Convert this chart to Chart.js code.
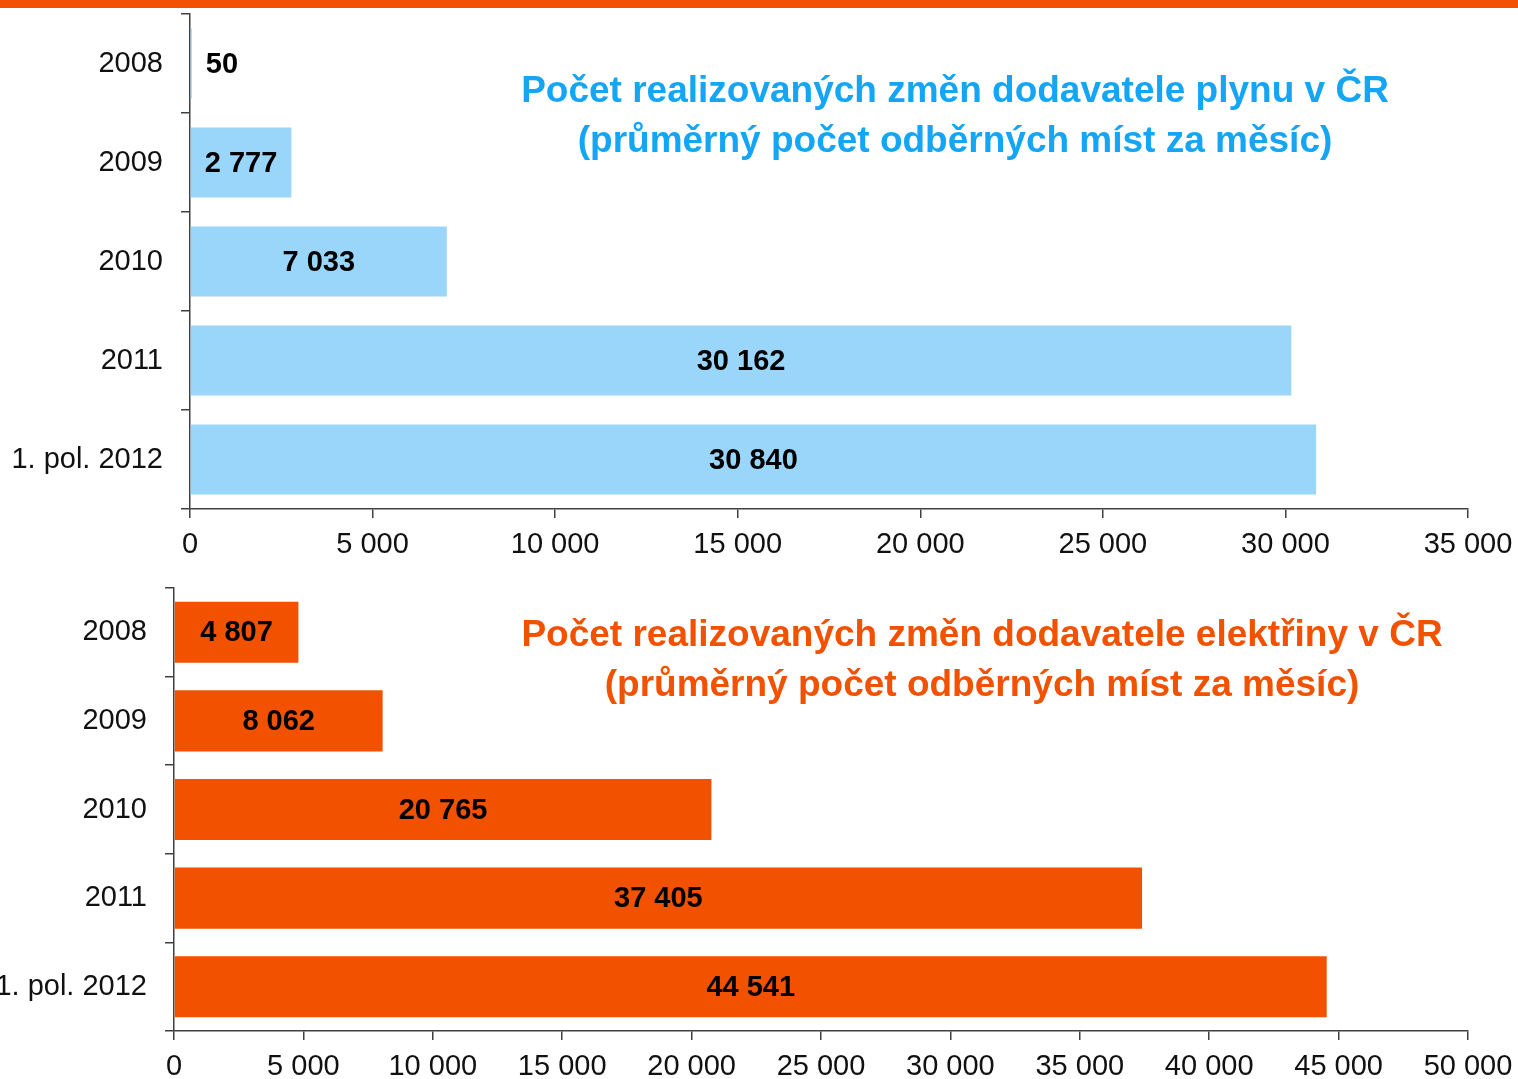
<!DOCTYPE html>
<html>
<head>
<meta charset="utf-8">
<script src="https://cdn.jsdelivr.net/npm/chart.js@4.4.1/dist/chart.umd.min.js"></script>
<style>
  html, body { margin:0; padding:0; background:#fff; }
  body { width:1518px; height:1079px; position:relative; overflow:hidden; font-family:"Liberation Sans", Arial, sans-serif; }
  #topbar { position:absolute; left:0; top:0; width:1518px; height:8px; background:#F25100; }
  canvas { position:absolute; left:0; }
  #c1 { top:0; }
  #c2 { top:575px; }
  .title { position:absolute; font-weight:bold; font-size:37px; line-height:50px; text-align:center; white-space:nowrap; width:1200px; }
  #t1 { color:#14A5F5; left:355px; top:65px; }
  #t2 { color:#F25100; left:382px; top:609px; }
</style>
</head>
<body>
<div id="topbar"></div>
<canvas id="c1" width="1518" height="575"></canvas>
<canvas id="c2" width="1518" height="504"></canvas>
<div class="title" id="t1">Počet realizovaných změn dodavatele plynu v ČR<br>(průměrný počet odběrných míst za měsíc)</div>
<div class="title" id="t2">Počet realizovaných změn dodavatele elektřiny v ČR<br>(průměrný počet odběrných míst za měsíc)</div>
<script>
const categories = ["2008", "2009", "2010", "2011", "1. pol. 2012"];
const gasValues = [50, 2777, 7033, 30162, 30840];
const elecValues = [4807, 8062, 20765, 37405, 44541];
const gasTicksMax = 35000;
const elecTicksMax = 50000;
const tickStep = 5000;

function fmt(v) { return String(v).replace(/\B(?=(\d{3})+(?!\d))/g, ' '); }

const FONT = '"Liberation Sans", Arial, sans-serif';
const AXIS = '#404040';

const valueLabels = {
  id: 'valueLabels',
  afterDatasetsDraw(chart) {
    const ctx = chart.ctx;
    const meta = chart.getDatasetMeta(0);
    ctx.save();
    ctx.font = 'bold 29px ' + FONT;
    ctx.fillStyle = '#000';
    ctx.textBaseline = 'middle';
    meta.data.forEach((bar, i) => {
      const txt = fmt(chart.data.datasets[0].data[i]);
      const w = ctx.measureText(txt).width;
      const len = bar.x - bar.base;
      if (w > len - 10) {
        ctx.textAlign = 'left';
        ctx.fillText(txt, bar.base + 15, bar.y + 1);
      } else {
        ctx.textAlign = 'center';
        ctx.fillText(txt, (bar.x + bar.base) / 2, bar.y + 1);
      }
    });
    ctx.restore();
  }
};

function makeChart(id, values, color, max, yWidth, padTop, xHeight, barPct) {
  return new Chart(document.getElementById(id), {
    type: 'bar',
    data: { labels: categories, datasets: [{ data: values, backgroundColor: color, borderWidth: 0, barPercentage: barPct, categoryPercentage: 1 }] },
    options: {
      indexAxis: 'y',
      responsive: false,
      animation: false,
      devicePixelRatio: 1,
      layout: { padding: { top: padTop, right: 50, left: 0, bottom: 0 } },
      plugins: { legend: { display: false }, tooltip: { enabled: false }, title: { display: false } },
      scales: {
        y: {
          afterFit(s) { s.width = yWidth; s.paddingTop = 0; s.paddingBottom = 0; s.paddingLeft = 0; s.paddingRight = 0; },
          grid: { drawOnChartArea: false, drawTicks: true, tickLength: 9, offset: true, color: AXIS, lineWidth: 1.5 },
          border: { display: true, color: AXIS, width: 1.5 },
          ticks: { color: '#111', font: { family: FONT, size: 29 }, padding: 18 }
        },
        x: {
          min: 0, max: max,
          afterFit(s) { s.height = xHeight; s.paddingTop = 0; s.paddingBottom = 0; s.paddingLeft = 0; s.paddingRight = 0; },
          grid: { drawOnChartArea: false, drawTicks: true, tickLength: 9, color: AXIS, lineWidth: 1.5 },
          border: { display: true, color: AXIS, width: 1.5 },
          ticks: { stepSize: tickStep, color: '#111', font: { family: FONT, size: 29 }, padding: 10, maxRotation: 0, autoSkip: false, callback: (v) => fmt(v) }
        }
      }
    },
    plugins: [valueLabels]
  });
}

makeChart('c1', gasValues, '#99D6FA', gasTicksMax, 190, 14, 66, 0.707);
makeChart('c2', elecValues, '#F25100', elecTicksMax, 174, 13, 48, 0.69);
</script>
</body>
</html>
